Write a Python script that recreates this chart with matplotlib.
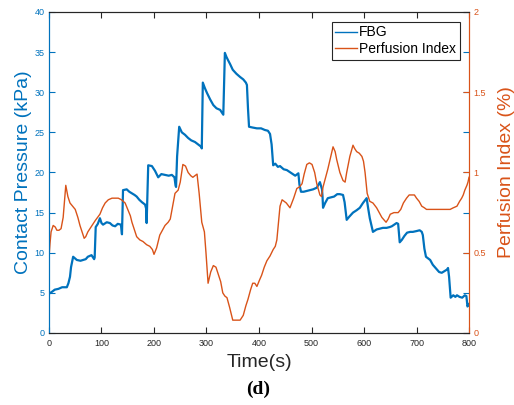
import matplotlib.pyplot as plt

plt.rcParams['font.family'] = ['Liberation Sans', 'DejaVu Sans']

# FBG contact pressure (kPa)
fbg_t = [0, 5, 11, 18, 25, 34, 37, 40, 42, 46, 53, 60, 65, 70, 74, 81, 86, 87,
         89, 93, 97, 100, 103, 110, 116, 121, 126, 131, 137, 139, 140, 141, 148,
         153, 158, 163, 167, 172, 177, 183, 185, 186, 189, 196, 202, 208, 214,
         221, 228, 234, 239, 241, 242, 244, 248, 253, 259, 265, 271, 278, 286,
         290, 291, 293, 297, 301, 307, 313, 319, 326, 330, 332, 335, 338, 341,
         345, 350, 357, 364, 370, 375, 377, 379, 381, 388, 396, 404, 411, 417,
         421, 424, 427, 431, 436, 440, 447, 453, 460, 465, 469, 475, 477, 480,
         485, 491, 497, 503, 510, 516, 520, 521, 522, 526, 531, 537, 543, 549,
         554, 560, 563, 567, 572, 579, 586, 592, 598, 605, 608, 611, 617, 624,
         630, 636, 643, 649, 653, 662, 665, 668, 672, 677, 682, 688, 693, 700,
         706, 710, 712, 715, 718, 722, 726, 731, 735, 739, 743, 748, 753, 758,
         760, 762, 765, 770, 774, 777, 782, 787, 792, 795, 797, 800]
fbg_p = [4.9, 5.1, 5.4, 5.5, 5.7, 5.7, 6.2, 7.0, 8.2, 9.5, 9.1, 9.0, 9.1, 9.2,
         9.5, 9.7, 9.2, 9.4, 13.2, 13.6, 14.3, 13.7, 13.5, 13.8, 13.7, 13.4,
         13.3, 13.6, 13.5, 12.3, 15.0, 17.8, 17.9, 17.6, 17.4, 17.2, 17.0, 16.6,
         16.3, 16.0, 15.5, 13.7, 20.9, 20.8, 20.2, 19.4, 19.8, 19.7, 19.6, 19.7,
         19.4, 18.4, 18.2, 22.0, 25.7, 25.0, 24.7, 24.3, 24.0, 23.8, 23.4, 23.2,
         23.0, 31.2, 30.5, 29.9, 29.1, 28.4, 28.0, 27.8, 27.4, 27.2, 34.9, 34.4,
         34.0, 33.5, 32.8, 32.3, 31.9, 31.6, 31.2, 30.9, 28.0, 25.7, 25.6, 25.5,
         25.5, 25.3, 25.2, 24.8, 23.5, 20.9, 21.1, 20.7, 20.8, 20.4, 20.3, 20.0,
         19.8, 19.6, 19.9, 18.5, 17.6, 17.6, 17.7, 17.8, 17.9, 18.1, 18.8, 17.9,
         17.0, 15.6, 16.2, 16.8, 16.9, 17.0, 17.3, 17.3, 17.2, 16.3, 14.1, 14.5,
         15.0, 15.3, 15.6, 16.2, 16.8, 15.5, 14.3, 12.6, 12.9, 13.0, 13.1, 13.1,
         13.2, 13.3, 13.7, 13.6, 11.3, 11.6, 12.1, 12.5, 12.6, 12.6, 12.7, 12.8,
         12.6, 12.2, 10.5, 9.5, 9.3, 9.1, 8.5, 8.2, 7.9, 7.6, 7.5, 7.7, 7.9,
         8.1, 7.0, 4.4, 4.7, 4.5, 4.7, 4.5, 4.4, 4.7, 4.6, 3.3, 3.6]

# perfusion index (%)
pi_t = [0, 2, 4, 8, 12, 15, 19, 23, 27, 32, 36, 40, 45, 50, 55, 59, 63, 67,
        70, 74, 80, 88, 97, 102, 107, 113, 120, 126, 132, 138, 145, 150, 155,
        158, 163, 167, 173, 179, 186, 192, 197, 200, 205, 211, 216, 221, 227,
        231, 236, 240, 246, 250, 255, 260, 265, 270, 274, 278, 282, 286, 291,
        296, 299, 303, 308, 313, 318, 322, 327, 331, 335, 339, 344, 350, 357,
        364, 370, 375, 379, 384, 388, 392, 396, 401, 405, 410, 415, 421, 427,
        431, 434, 440, 444, 452, 459, 466, 472, 477, 482, 486, 491, 496, 501,
        506, 510, 516, 519, 522, 526, 531, 536, 541, 545, 548, 554, 560, 564,
        567, 573, 579, 582, 586, 591, 596, 599, 602, 606, 611, 617, 624, 629,
        634, 642, 646, 650, 657, 665, 670, 675, 681, 686, 691, 696, 700, 705,
        710, 715, 719, 730, 745, 757, 764, 770, 777, 782, 786, 789, 792, 796,
        798, 800]
pi_v = [0.47, 0.56, 0.63, 0.67, 0.66, 0.64, 0.64, 0.65, 0.72, 0.92, 0.85,
        0.81, 0.79, 0.77, 0.72, 0.67, 0.63, 0.59, 0.60, 0.63, 0.66, 0.70, 0.74,
        0.78, 0.81, 0.83, 0.84, 0.84, 0.84, 0.83, 0.81, 0.77, 0.73, 0.69, 0.64,
        0.60, 0.58, 0.57, 0.55, 0.54, 0.52, 0.49, 0.53, 0.61, 0.64, 0.67, 0.69,
        0.71, 0.80, 0.87, 0.89, 0.94, 1.05, 1.04, 1.00, 0.98, 0.97, 0.98, 0.99,
        0.87, 0.69, 0.63, 0.50, 0.31, 0.38, 0.42, 0.41, 0.37, 0.32, 0.25, 0.23,
        0.22, 0.16, 0.08, 0.08, 0.08, 0.11, 0.17, 0.21, 0.27, 0.31, 0.31, 0.29,
        0.33, 0.36, 0.41, 0.45, 0.48, 0.52, 0.54, 0.58, 0.79, 0.83, 0.81, 0.78,
        0.84, 0.90, 0.91, 0.93, 0.99, 1.05, 1.06, 1.05, 1.00, 0.93, 0.86, 0.85,
        0.91, 0.96, 1.02, 1.09, 1.16, 1.13, 1.08, 1.00, 0.95, 0.94, 1.00, 1.10,
        1.17, 1.15, 1.13, 1.12, 1.10, 1.07, 1.00, 0.87, 0.82, 0.81, 0.78, 0.75,
        0.72, 0.69, 0.71, 0.74, 0.75, 0.75, 0.77, 0.81, 0.84, 0.86, 0.86, 0.86,
        0.84, 0.82, 0.79, 0.78, 0.77, 0.77, 0.77, 0.77, 0.77, 0.78, 0.79, 0.82,
        0.84, 0.86, 0.89, 0.92, 0.94, 0.97]

blue = '#0072BD'
orange = '#D95319'
dark = '#262626'

fig = plt.figure(figsize=(5.14, 4.05), dpi=100)
ax1 = fig.add_axes([0.0953, 0.1778, 0.8172, 0.7926])
ax2 = ax1.twinx()

l1, = ax1.plot(fbg_t, fbg_p, color=blue, lw=1.6, label='FBG')
l2, = ax2.plot(pi_t, pi_v, color=orange, lw=1.0, label='Perfusion Index')

ax1.set_xlim(0, 800)
ax1.set_ylim(0, 40)
ax2.set_ylim(0, 2)
ax1.set_xticks(range(0, 801, 100))
ax1.set_yticks(range(0, 41, 5))
ax2.set_yticks([0, 0.5, 1, 1.5, 2])
ax2.set_yticklabels(['0', '0.5', '1', '1.5', '2'])

ax1.tick_params(axis='x', direction='in', length=4, width=0.8, colors=dark,
                labelsize=6.5, top=True, pad=4)
ax1.tick_params(axis='y', direction='in', length=4, width=0.8, colors=blue,
                labelsize=6.5, right=True, pad=3)
ax2.tick_params(axis='y', direction='in', length=4, width=0.8, colors=orange,
                labelsize=6.5, pad=3)

for ax in (ax1, ax2):
    ax.spines['top'].set_color(dark)
    ax.spines['bottom'].set_color(dark)
    ax.spines['left'].set_color(blue)
    ax.spines['right'].set_color(orange)
    for s in ax.spines.values():
        s.set_linewidth(0.8)

ax1.set_xlabel('Time(s)', fontsize=14, color=dark, labelpad=5)
ax1.set_ylabel('Contact Pressure (kPa)', fontsize=14, color=blue, labelpad=2)
ax2.set_ylabel('Perfusion Index (%)', fontsize=14, color=orange, labelpad=9)

leg = ax2.legend(handles=[l1, l2], loc='upper right',
                 bbox_to_anchor=(0.978, 0.969), fontsize=10, fancybox=False,
                 edgecolor=dark, framealpha=1, handlelength=1.6,
                 handletextpad=0.15, borderpad=0.25, labelspacing=0.2,
                 borderaxespad=0)
leg.get_frame().set_linewidth(0.8)
for h in leg.get_lines():
    h.set_linewidth(1.0)

fig.text(0.502, 0.028, '(d)', fontsize=14, fontweight='bold',
         family='Liberation Serif', ha='center', va='baseline')

fig.savefig('out.png', dpi=100)
